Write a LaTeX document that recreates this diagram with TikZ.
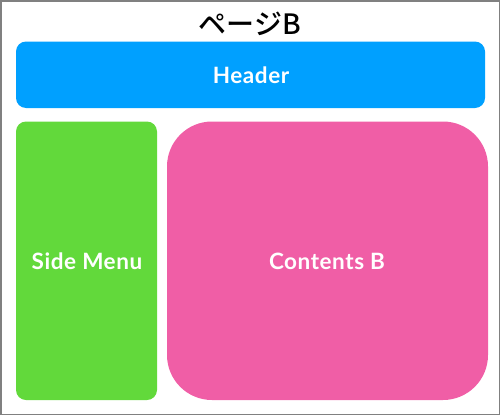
\documentclass[tikz,border=0pt]{standalone}
\usepackage{fontspec}
\setmainfont{Lato}[UprightFont=* Bold,LetterSpace=2.5]
\newfontfamily\jpfont{Noto Sans CJK JP Medium}
\definecolor{hdrblue}{RGB}{0,160,255}
\definecolor{sidegreen}{RGB}{98,217,59}
\definecolor{contpink}{RGB}{240,94,166}
\definecolor{framegray}{RGB}{128,128,128}
\begin{document}
\begin{tikzpicture}[x=1pt,y=-1pt,
  panel/.style={fill=#1,draw=none},
  lbl/.style={text=white,font=\fontsize{22.5}{26}\selectfont,inner sep=0pt}]
\useasboundingbox (0,0) rectangle (500,415);
\draw[framegray,line width=1.5pt] (0.75,0.75) rectangle (499.25,414.25);
\node[font=\jpfont\fontsize{28}{32}\selectfont,inner sep=0pt] (title) at (250,24) {ページB};
\fill[panel=hdrblue,rounded corners=10pt] (16,41.5) rectangle (485,108);
\fill[panel=sidegreen,rounded corners=10pt] (16,121.5) rectangle (157,400);
\fill[panel=contpink,rounded corners=45pt] (167,121.5) rectangle (488,400);
\node[lbl] (header) at (251,75) {Header};
\node[lbl] (side) at (87,261) {Side Menu};
\node[lbl] (contents) at (327,261) {Contents B};
\end{tikzpicture}
\end{document}
